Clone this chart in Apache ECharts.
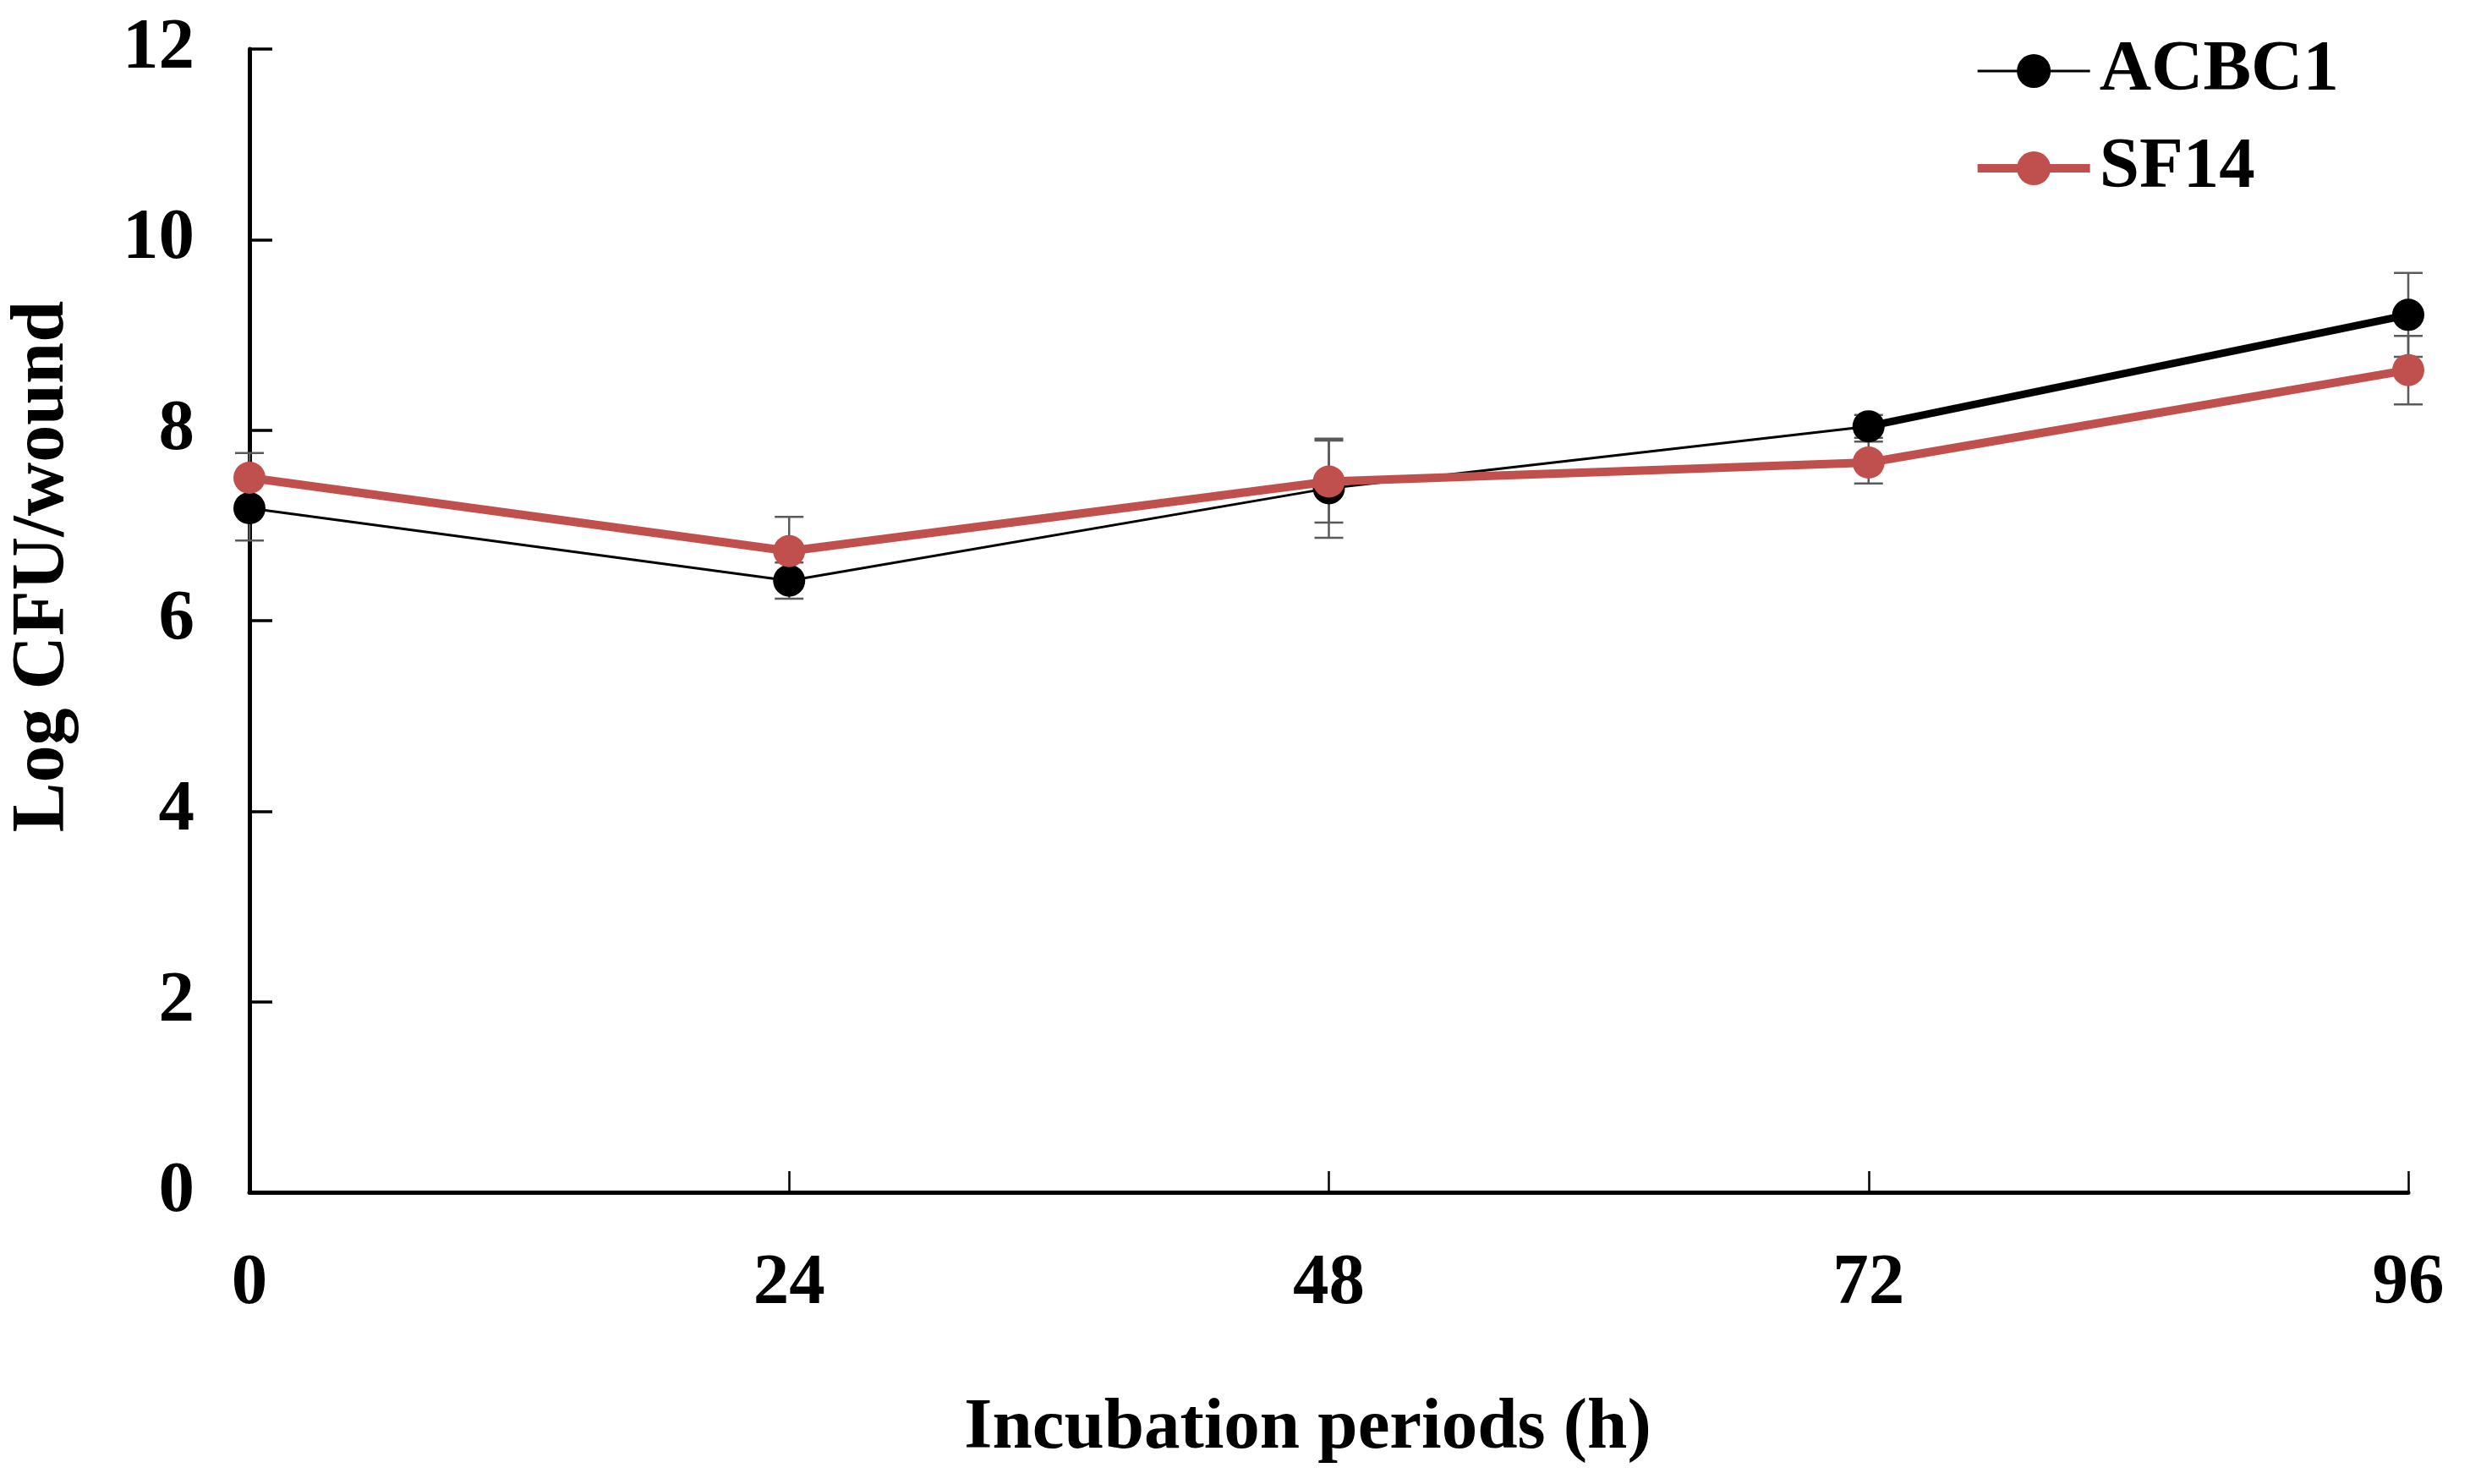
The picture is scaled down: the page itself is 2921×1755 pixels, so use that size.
<!DOCTYPE html>
<html>
<head>
<meta charset="utf-8">
<script src="https://cdn.jsdelivr.net/npm/echarts@6/dist/echarts.min.js"></script>
<style>
html,body{margin:0;padding:0;background:#fff;}
#chart{width:2921px;height:1755px;}
</style>
</head>
<body>
<div id="chart"></div>
<script>
const hours = [0, 24, 48, 72, 96];
const acbc1 = [7.18, 6.42, 7.39, 8.04, 9.21];
const acbc1Err = [0.34, 0.19, 0.52, 0.12, 0.44];
const sf14 = [7.50, 6.73, 7.46, 7.66, 8.63];
const sf14Err = [0.26, 0.36, 0.43, 0.22, 0.36];
const yTicks = [0, 2, 4, 6, 8, 10, 12];

const FONT = 'Liberation Serif';
const RED = '#C0504D';
const FS = 85;

const pts = (vals) => hours.map((h, i) => [h, vals[i]]);
const errData = (vals, errs) => hours.map((h, i) => [h, vals[i] - errs[i], vals[i] + errs[i]]);

function errRender(params, api) {
  const x = api.value(0);
  const lo = api.coord([x, api.value(1)]);
  const hi = api.coord([x, api.value(2)]);
  const hw = 17;
  const style = { stroke: '#5a5a5a', lineWidth: 2.5, fill: null };
  return {
    type: 'group',
    children: [
      { type: 'line', shape: { x1: lo[0], y1: lo[1], x2: hi[0], y2: hi[1] }, style },
      { type: 'line', shape: { x1: lo[0] - hw, y1: lo[1], x2: lo[0] + hw, y2: lo[1] }, style },
      { type: 'line', shape: { x1: hi[0] - hw, y1: hi[1], x2: hi[0] + hw, y2: hi[1] }, style }
    ]
  };
}

const chart = echarts.init(document.getElementById('chart'));
chart.setOption({
  animation: false,
  backgroundColor: '#fff',
  grid: { left: 295, right: 73, top: 58, bottom: 345, containLabel: false, outerBoundsMode: 'none' },
  legend: {
    data: [
      { name: 'ACBC1', lineStyle: { width: 3, color: '#000' } },
      { name: 'SF14', lineStyle: { width: 10, color: RED } }
    ],
    orient: 'vertical',
    right: 150,
    top: 35,
    itemWidth: 133,
    itemHeight: 50,
    itemGap: 27,
    textStyle: { fontFamily: FONT, fontWeight: 'bold', fontSize: FS, color: '#000', lineHeight: 88, padding: [0, 0, 0, 6] }
  },
  xAxis: {
    type: 'value',
    min: 0, max: 96, interval: 24,
    name: 'Incubation periods (h)',
    nameLocation: 'middle',
    nameGap: 238,
    nameTextStyle: { fontFamily: FONT, fontWeight: 'bold', fontSize: FS, color: '#000', padding: [0, 50, 0, 0] },
    axisLine: { show: true, lineStyle: { color: '#000', width: 5 } },
    axisTick: { show: true, inside: true, length: 25, lineStyle: { color: '#000', width: 2.5 } },
    axisLabel: { fontFamily: FONT, fontWeight: 'bold', fontSize: FS, color: '#000', margin: 67,
      formatter: (v) => String(v) },
    splitLine: { show: false }
  },
  yAxis: {
    type: 'value',
    min: 0, max: 12, interval: 2,
    name: 'Log CFU/wound',
    nameLocation: 'middle',
    nameGap: 200,
    nameRotate: 90,
    nameTextStyle: { fontFamily: FONT, fontWeight: 'bold', fontSize: 88, color: '#000', padding: [0, 0, 0, 128] },
    axisLine: { show: true, lineStyle: { color: '#000', width: 5 } },
    axisTick: { show: true, inside: true, length: 27, lineStyle: { color: '#000', width: 3.5 } },
    axisLabel: { fontFamily: FONT, fontWeight: 'bold', fontSize: FS, color: '#000', margin: 65,
      formatter: (v) => yTicks.includes(v) ? String(v) : '' },
    splitLine: { show: false }
  },
  series: [
    {
      name: 'ACBC1 err', type: 'custom', renderItem: errRender,
      data: errData(acbc1, acbc1Err), z: 1, silent: true
    },
    {
      name: 'SF14 err', type: 'custom', renderItem: errRender,
      data: errData(sf14, sf14Err), z: 1, silent: true
    },
    {
      name: 'ACBC1 seg', type: 'line', data: pts(acbc1).slice(3),
      showSymbol: false, symbol: 'none',
      lineStyle: { color: '#000', width: 9 }, z: 2, silent: true
    },
    {
      name: 'ACBC1', type: 'line', data: pts(acbc1),
      symbol: 'circle', symbolSize: 38,
      itemStyle: { color: '#000' },
      lineStyle: { color: '#000', width: 3 }, z: 3
    },
    {
      name: 'SF14', type: 'line', data: pts(sf14),
      symbol: 'circle', symbolSize: 38,
      itemStyle: { color: RED },
      lineStyle: { color: RED, width: 10 }, z: 4
    }
  ]
});
</script>
</body>
</html>
